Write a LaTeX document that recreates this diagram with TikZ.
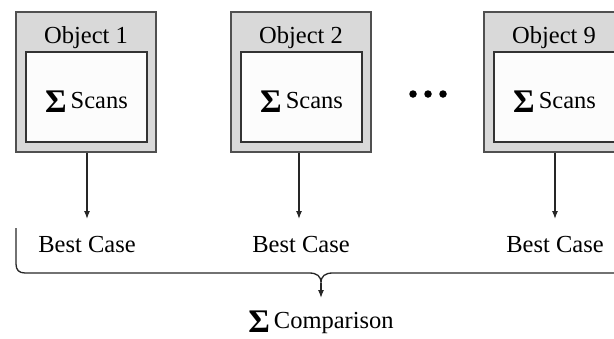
\documentclass[tikz,border=0pt]{standalone}
\usepackage{fontspec}
\setmainfont{Liberation Serif}
\usetikzlibrary{arrows.meta}
\definecolor{boxgray}{HTML}{D9D9D9}
\definecolor{innerfill}{HTML}{FCFCFC}
\definecolor{edgegray}{HTML}{505050}
\newcommand{\bigsig}{\raisebox{-4pt}{\fontsize{33}{33}\selectfont\bfseries Σ}}
\tikzset{
  outerbox/.style={draw=edgegray, line width=1.4pt, fill=boxgray, minimum width=140pt, minimum height=140pt, inner sep=0pt},
  innerbox/.style={draw=black!80, line width=1.4pt, fill=innerfill, minimum width=121pt, minimum height=90pt, inner sep=0pt},
  lbl/.style={font=\fontsize{24.5}{28}\selectfont, inner sep=0pt, anchor=base},
  conn/.style={draw=black!85, line width=1.2pt, -{Latex[length=8pt,width=6pt]}},
  bracep/.style={draw=black!85, line width=1.3pt},
  dotc/.style={fill=black, circle, minimum size=7.5pt, inner sep=0pt}
}
\begin{document}
\begin{tikzpicture}[x=1pt,y=1pt]
\useasboundingbox (0,0) rectangle (614,-338);
% boxes
\node[outerbox] (o1) at (86,-82) {};
\node[innerbox] (i1) at (86.5,-97) {};
\node[lbl] (t1) at (86,-43) {Object 1};
\node[lbl] (s1) at (86.5,-108) {\bigsig\,Scans};

\node[outerbox] (o2) at (301,-82) {};
\node[innerbox] (i2) at (301.5,-97) {};
\node[lbl] (t2) at (301,-43) {Object 2};
\node[lbl] (s2) at (301.5,-108) {\bigsig\,Scans};

\node[outerbox] (o3) at (554,-82) {};
\node[innerbox] (i3) at (554.5,-97) {};
\node[lbl] (t3) at (554,-43) {Object 9};
\node[lbl] (s3) at (554.5,-108) {\bigsig\,Scans};

% dots
\node[dotc] (d1) at (413,-94) {};
\node[dotc] (d2) at (428,-94) {};
\node[dotc] (d3) at (443,-94) {};

% best case labels
\node[lbl] (b1) at (87,-252) {Best Case};
\node[lbl] (b2) at (301,-252) {Best Case};
\node[lbl] (b3) at (555,-252) {Best Case};
\coordinate (a1) at (87,-219);
\coordinate (a2) at (299,-219);
\coordinate (a3) at (555,-219);
\draw[conn] (87,-152.7) -- (a1);
\draw[conn] (299,-152.7) -- (a2);
\draw[conn] (555,-152.7) -- (a3);

% brace
\coordinate (bl) at (16,-228);
\coordinate (bt) at (321,-283);
\coordinate (br) at (626,-228);
\draw[bracep] (bl) -- (16,-264) .. controls (16,-270) and (19,-273) .. (25,-273)
  -- (309,-273) .. controls (317,-273) and (321,-276) .. (bt)
  .. controls (321,-276) and (325,-273) .. (333,-273)
  -- (617,-273) .. controls (623,-273) and (626,-270) .. (626,-264) -- (br);
\coordinate (ct) at (321,-298);
\draw[conn] (bt) -- (ct);
\node[lbl] (cmp) at (321,-328) {\bigsig\,Comparison};
\end{tikzpicture}
\end{document}
